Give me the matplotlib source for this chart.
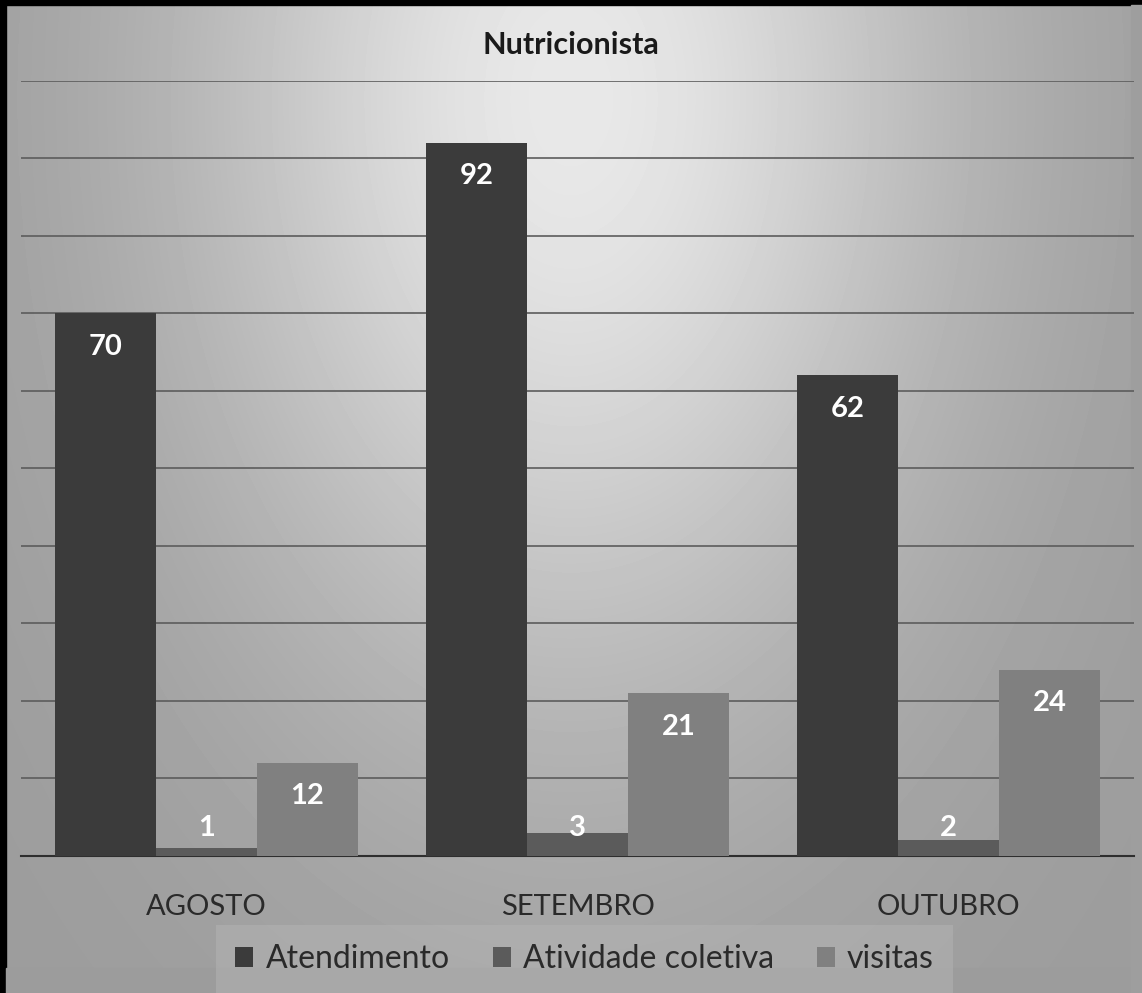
import numpy as np
import matplotlib
matplotlib.use('Agg')
from matplotlib import pyplot as plt
from matplotlib.patches import Patch, Rectangle

# data
meses = ['AGOSTO', 'SETEMBRO', 'OUTUBRO']
series = ['Atendimento', 'Atividade coletiva', 'visitas']
atendimento = [70, 92, 62]
atividade_coletiva = [1, 3, 2]
visitas = [12, 21, 24]

cores = ['#3b3b3b', '#5b5b5b', '#808080']
fonte = ['Lato', 'DejaVu Sans']

fig = plt.figure(figsize=(11.42, 9.93), dpi=100, facecolor='#9c9c9c')

# photographed grey background: bright in the upper middle, darker at the edges
W, H = 1142, 993
gx, gy = np.meshgrid(np.linspace(0, 1, W), np.linspace(1, 0, H))
luz = np.exp(-((gx - 0.5) / 0.33) ** 2) * np.exp(-((gy - 0.1) / 0.6) ** 2)
fundo = 0.61 + 0.30 * luz
fig.figimage(fundo, cmap='gray', vmin=0, vmax=1, origin='lower', zorder=-10)

# black border strips from the photo (top and left)
fig.patches.append(Rectangle((0, 0.995), 1, 0.005, transform=fig.transFigure,
                             color='black', zorder=-5))
fig.patches.append(Rectangle((0, 0), 0.005, 1, transform=fig.transFigure,
                             color='black', zorder=-5))
# plain grey along bottom and right edges
fig.patches.append(Rectangle((0.005, 0), 0.995, 0.025, transform=fig.transFigure,
                             color='#9c9c9c', zorder=-4))
fig.patches.append(Rectangle((0.99, 0), 0.01, 0.995, transform=fig.transFigure,
                             color='#9e9e9e', zorder=-4))

ax = fig.add_axes([0.0184, 0.138, 0.9746, 0.7805])
ax.patch.set_alpha(0)

x = np.arange(len(meses))
w = 0.272
for i, (vals, cor) in enumerate(zip([atendimento, atividade_coletiva, visitas], cores)):
    pos = x + (i - 1) * w
    ax.bar(pos, vals, width=w, color=cor, zorder=3)
    for p, v in zip(pos, vals):
        ax.text(p, max(v - 4.3, 3.6), str(v), ha='center', va='center', color='white',
                fontsize=21, fontweight='bold', family=fonte, zorder=4)

ax.set_xlim(-0.5, 2.5)
ax.set_ylim(0, 100)
ax.set_yticks(np.arange(10, 101, 10))
ax.yaxis.grid(True, color='#5c5c5c', linewidth=1.2, zorder=1)
ax.tick_params(left=False, labelleft=False, bottom=False)
for s in ['left', 'right', 'top']:
    ax.spines[s].set_visible(False)
ax.spines['bottom'].set_color('#2e2e2e')
ax.spines['bottom'].set_linewidth(1.5)
ax.set_xticks(x)
ax.set_xticklabels(meses, fontsize=21, color='#2a2a2a', family=fonte)
ax.tick_params(axis='x', pad=24)

fig.text(0.5, 0.955, 'Nutricionista', ha='center', va='center', fontsize=22,
         fontweight='bold', color='#1a1a1a', family=fonte)

handles = [Patch(facecolor=c, edgecolor='none') for c in cores]
leg = fig.legend(handles, series, loc='center', bbox_to_anchor=(0.512, 0.034), ncol=3,
                 frameon=True, handlelength=0.56, handleheight=0.56,
                 handletextpad=0.38, columnspacing=1.35, borderpad=0.3,
                 prop={'family': fonte, 'size': 23})
leg.get_frame().set_facecolor('#b4b4b4')
leg.get_frame().set_edgecolor('none')
leg.get_frame().set_alpha(0.5)
leg.get_frame().set_boxstyle('square', pad=0.3)
for t in leg.get_texts():
    t.set_color('#2a2a2a')

fig.savefig('out.png', dpi=100)
